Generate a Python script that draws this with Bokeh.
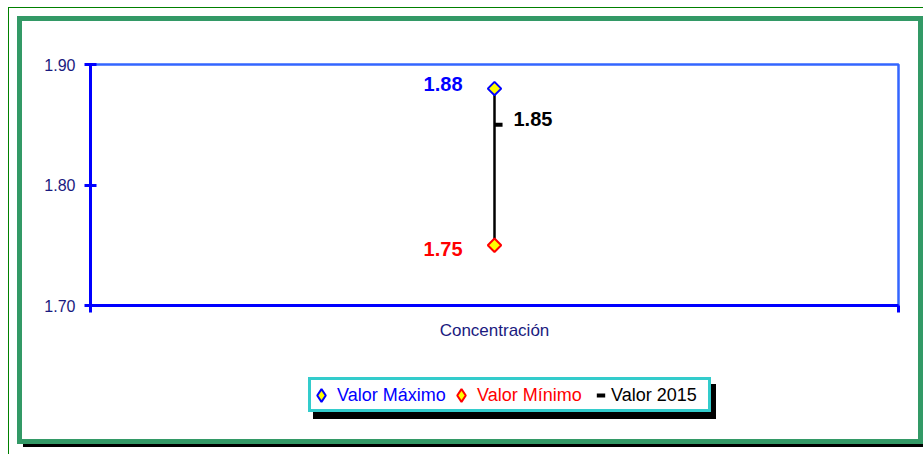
from bokeh.plotting import figure
from bokeh.layouts import column
from bokeh.models import (Range1d, FixedTicker, Legend, LegendItem,
                          ColumnDataSource, PrintfTickFormatter)
from bokeh.transform import dodge
from bokeh.core.properties import value
from bokeh.embed import file_html
from bokeh.resources import INLINE
import numpy as np

# ---- data ----
categories = ["Concentración"]
valor_maximo = [1.88]
valor_minimo = [1.75]
valor_2015 = [1.85]
series_names = ["Valor Máximo", "Valor Mínimo", "Valor 2015"]
y_ticks = [1.70, 1.80, 1.90]

x_pos = [i + 0.5 for i in range(len(categories))]
x_edges = [float(i) for i in range(len(categories) + 1)]

src = ColumnDataSource(dict(
    x=x_pos, cat=categories,
    vmax=valor_maximo, vmin=valor_minimo, v2015=valor_2015,
    tmax=[f"{v:.2f}" for v in valor_maximo],
    tmin=[f"{v:.2f}" for v in valor_minimo],
    t2015=[f"{v:.2f}" for v in valor_2015],
))

FONT = "Liberation Sans"
BLUE = "#0000FF"
RED = "#FF0000"
NAVY = "#1a1a80"

# ---- main chart ----
p = figure(width=896, height=345, output_backend="svg", toolbar_location=None,
           x_range=Range1d(0, len(categories)), y_range=Range1d(y_ticks[0], y_ticks[-1]),
           min_border_left=68, min_border_right=20, min_border_top=43, min_border_bottom=61,
           background_fill_color="white", border_fill_color="white", frame_align=False)
p.grid.visible = False
p.outline_line_color = "#3366FF"
p.outline_line_width = 2.5

xa = p.xaxis[0]
xa.ticker = FixedTicker(ticks=x_pos, minor_ticks=x_edges)
xa.major_label_overrides = {x: c for x, c in zip(x_pos, categories)}
xa.axis_line_color = BLUE
xa.axis_line_width = 3
xa.major_tick_in = 0
xa.major_tick_out = 0
xa.minor_tick_in = 0
xa.minor_tick_out = 7
xa.minor_tick_line_color = BLUE
xa.minor_tick_line_width = 3
xa.major_label_standoff = 8
xa.major_label_text_font = FONT
xa.major_label_text_font_size = "17px"
xa.major_label_text_color = NAVY

ya = p.yaxis[0]
ya.ticker = FixedTicker(ticks=y_ticks)
ya.formatter = PrintfTickFormatter(format="%.2f")
ya.axis_line_color = BLUE
ya.axis_line_width = 3
ya.major_tick_in = 6
ya.major_tick_out = 6
ya.major_tick_line_color = BLUE
ya.major_tick_line_width = 3
ya.minor_tick_line_color = None
ya.major_label_standoff = 9
ya.major_label_text_font = FONT
ya.major_label_text_font_size = "16px"
ya.major_label_text_color = NAVY

p.segment(x0="x", y0="vmin", x1="x", y1="vmax", source=src, line_color="black", line_width=2.5)
p.scatter("x", "vmax", source=src, marker="square", angle=np.pi / 4, size=9.5,
          fill_color="yellow", line_color=BLUE, line_width=2)
p.scatter("x", "vmin", source=src, marker="square", angle=np.pi / 4, size=9.5,
          fill_color="yellow", line_color=RED, line_width=2)
p.scatter(x=dodge("x", 0.005), y="v2015", source=src, marker="dash", size=8,
          line_color="black", line_width=4)

p.text(x="x", y="vmax", text="tmax", source=src, text_font=value(FONT), text_font_style="bold",
       text_font_size="20px", text_color=BLUE, text_align="right", text_baseline="middle",
       x_offset=-32, y_offset=-5)
p.text(x="x", y="vmin", text="tmin", source=src, text_font=value(FONT), text_font_style="bold",
       text_font_size="20px", text_color=RED, text_align="right", text_baseline="middle",
       x_offset=-32, y_offset=4)
p.text(x="x", y="v2015", text="t2015", source=src, text_font=value(FONT), text_font_style="bold",
       text_font_size="20px", text_color="black", text_align="left", text_baseline="middle",
       x_offset=19, y_offset=-6)

# ---- legend box (separate small figure so each label keeps its own colour) ----
lf = figure(width=403, height=35, output_backend="svg", toolbar_location=None,
            x_axis_type=None, y_axis_type=None, min_border=0, frame_align=False,
            x_range=Range1d(0, 1), y_range=Range1d(0, 1),
            background_fill_color="white", border_fill_color="white",
            margin=(11, 0, 27, 286),
            styles={"box-shadow": "5px 7px 0 0 #000000"})
lf.grid.visible = False
lf.outline_line_color = "#33CCCC"
lf.outline_line_width = 5

lg_max = lf.scatter("x", "vmax", source=src, marker="diamond", fill_color="yellow",
                    line_color=BLUE, line_width=2, visible=False)
lg_min = lf.scatter("x", "vmin", source=src, marker="diamond", fill_color="yellow",
                    line_color=RED, line_width=2, visible=False)
lg_2015 = lf.scatter("x", "v2015", source=src, marker="dash", line_color="black",
                     line_width=4, visible=False)

def mk_legend(name, rend, color, vx, gw, standoff):
    lg = Legend(items=[LegendItem(label=name, renderers=[rend])], location=(vx, 1),
                orientation="horizontal", padding=0, margin=0, spacing=0,
                border_line_alpha=0, background_fill_alpha=0,
                label_text_font=FONT, label_text_font_size="18px", label_text_color=color,
                glyph_width=gw, glyph_height=32, label_height=30, label_standoff=standoff)
    lf.add_layout(lg)

mk_legend(series_names[0], lg_max, BLUE, -3, 32, -4)
mk_legend(series_names[1], lg_min, RED, 137, 32, -5)
mk_legend(series_names[2], lg_2015, "black", 282, 21, -4)

# ---- frames ----
box = column(p, lf, margin=(8, 0, 10, 8),
             styles={"border": "5px solid #339966", "box-shadow": "6px 3px 0 0 #000000",
                     "background-color": "white"})
outer = column(box, margin=(7, 0, 0, 8),
               styles={"border-top": "1px solid #008000", "border-left": "1px solid #008000"})

open("out.html", "w").write(file_html(outer, INLINE))
